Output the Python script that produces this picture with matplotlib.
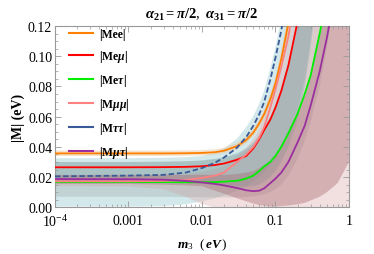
import numpy as np
import matplotlib
matplotlib.use('Agg')
import matplotlib.pyplot as plt
from matplotlib.lines import Line2D
from matplotlib.ticker import MultipleLocator, LogLocator, FixedLocator, NullFormatter

# fonts: Times-like serif
plt.rcParams['font.family'] = ['Liberation Serif', 'DejaVu Serif']
plt.rcParams['mathtext.fontset'] = 'custom'
plt.rcParams['mathtext.rm'] = 'Liberation Serif'
plt.rcParams['mathtext.it'] = 'Liberation Serif:italic:bold'
plt.rcParams['mathtext.bf'] = 'Liberation Serif:bold'

# lightest neutrino mass grid (eV)
m3 = [1e-4, 1e-3, 3e-3, 6e-3, 0.01, 0.015, 0.02, 0.03, 0.04, 0.05, 0.06, 0.07,
      0.085, 0.1, 0.12, 0.15, 0.2, 0.25, 0.3, 0.4, 0.5, 0.7, 1.0]

# |Mee|
mee = [0.0357, 0.0357, 0.0357, 0.0358, 0.0360, 0.0365, 0.0375, 0.0405, 0.0445, 0.0495, 0.0555, 0.0615,
       0.0715, 0.0820, 0.0980, 0.1220, 0.160, 0.200, 0.240, 0.300, 0.380, 0.520, 0.740]
mee_lo = [0.0340, 0.0340, 0.0340, 0.0341, 0.0343, 0.0348, 0.0357, 0.0385, 0.0423, 0.0471, 0.0527, 0.0585,
          0.0680, 0.0780, 0.0930, 0.1160, 0.152, 0.190, 0.228, 0.285, 0.361, 0.494, 0.703]
mee_hi = [0.0376, 0.0376, 0.0376, 0.0377, 0.0379, 0.0384, 0.0395, 0.0427, 0.0468, 0.0520, 0.0583, 0.0645,
          0.0750, 0.0860, 0.1030, 0.1280, 0.168, 0.210, 0.252, 0.315, 0.400, 0.546, 0.777]

# |Me mu|
mem = [0.0265, 0.0265, 0.0266, 0.0268, 0.0272, 0.0280, 0.0290, 0.0315, 0.0340, 0.0390, 0.0450, 0.0510,
       0.0580, 0.0660, 0.0770, 0.0940, 0.123, 0.150, 0.180, 0.240, 0.300, 0.420, 0.600]
mem_lo = [0.0165, 0.0165, 0.0163, 0.0160, 0.0155, 0.0150, 0.0145, 0.0140, 0.0135, 0.0140, 0.0150, 0.0170,
          0.0200, 0.0240, 0.0300, 0.0400, 0.058, 0.080, 0.105, 0.160, 0.210, 0.300, 0.450]
mem_hi = [0.0300, 0.0300, 0.0302, 0.0305, 0.0310, 0.0320, 0.0330, 0.0360, 0.0390, 0.0430, 0.0480, 0.0530,
          0.0600, 0.0680, 0.0790, 0.0960, 0.125, 0.155, 0.185, 0.245, 0.310, 0.430, 0.610]

# |Me tau|
met = [0.0167, 0.0167, 0.0167, 0.0166, 0.0166, 0.0167, 0.0170, 0.0176, 0.0190, 0.0210, 0.0240, 0.0270,
       0.0300, 0.0340, 0.0400, 0.0490, 0.062, 0.075, 0.087, 0.115, 0.140, 0.190, 0.270]
met_lo = [0.0070, 0.0070, 0.0069, 0.0068, 0.0067, 0.0066, 0.0066, 0.0066, 0.0068, 0.0072, 0.0078, 0.0085,
          0.0100, 0.0120, 0.0150, 0.0210, 0.032, 0.044, 0.056, 0.080, 0.105, 0.150, 0.220]
met_hi = [0.0300, 0.0300, 0.0302, 0.0305, 0.0310, 0.0320, 0.0330, 0.0350, 0.0380, 0.0420, 0.0470, 0.0520,
          0.0590, 0.0670, 0.0780, 0.0950, 0.124, 0.155, 0.185, 0.245, 0.310, 0.430, 0.610]

# |M mu mu|
mmm = [0.0172, 0.0172, 0.0175, 0.0180, 0.0195, 0.0210, 0.0230, 0.0300, 0.0350, 0.0400, 0.0460, 0.0530,
       0.0660, 0.0780, 0.0930, 0.1130, 0.150, 0.185, 0.220, 0.290, 0.360, 0.500, 0.700]
mmm_lo = [0.0140, 0.0138, 0.0120, 0.0070, 0.0020, 0.0, 0.0, 0.0, 0.0, 0.0, 0.0, 0.0,
          0.0, 0.0, 0.0, 0.0, 0.0, 0.0, 0.0, 0.0, 0.0, 0.0, 0.0]
mmm_hi = [0.0210, 0.0210, 0.0213, 0.0220, 0.0235, 0.0255, 0.0275, 0.0340, 0.0395, 0.0450, 0.0515, 0.0590,
          0.0720, 0.0850, 0.1010, 0.1230, 0.162, 0.200, 0.240, 0.315, 0.390, 0.540, 0.760]

# |M tau tau|
mtt = [0.0205, 0.0210, 0.0215, 0.0230, 0.0260, 0.0295, 0.0330, 0.0395, 0.0465, 0.0540, 0.0615, 0.0695,
       0.0845, 0.0990, 0.1170, 0.1450, 0.190, 0.240, 0.290, 0.380, 0.480, 0.670, 0.950]
mtt_lo = [0.0005, 0.0005, 0.0008, 0.0020, 0.0040, 0.0060, 0.0080, 0.0110, 0.0140, 0.0170, 0.0200, 0.0230,
          0.0280, 0.0330, 0.0400, 0.0500, 0.065, 0.085, 0.110, 0.150, 0.200, 0.290, 0.420]
mtt_hi = [0.0325, 0.0325, 0.0328, 0.0332, 0.0340, 0.0360, 0.0390, 0.0455, 0.0530, 0.0605, 0.0685, 0.0770,
          0.0920, 0.1060, 0.1240, 0.1520, 0.200, 0.250, 0.300, 0.400, 0.500, 0.700, 1.000]

# |M mu tau|
mmt = [0.0187, 0.0186, 0.0183, 0.0175, 0.0165, 0.0155, 0.0145, 0.0128, 0.0113, 0.0107, 0.0110, 0.0125,
       0.0160, 0.0190, 0.0230, 0.0300, 0.043, 0.054, 0.067, 0.090, 0.112, 0.150, 0.210]
mmt_lo = [0.0155, 0.0155, 0.0150, 0.0145, 0.0140, 0.0110, 0.0090, 0.0060, 0.0040, 0.0025, 0.0015, 0.0010,
          0.0005, 0.0005, 0.0008, 0.0012, 0.0020, 0.0030, 0.0045, 0.0070, 0.0100, 0.0160, 0.0300]
mmt_hi = [0.0215, 0.0215, 0.0215, 0.0215, 0.0215, 0.0215, 0.0215, 0.0220, 0.0230, 0.0240, 0.0260, 0.0280,
          0.0310, 0.0350, 0.0410, 0.0500, 0.063, 0.075, 0.087, 0.115, 0.140, 0.190, 0.270]

labels = [r'|Mee|', r'|Me$\mu$|', r'|Me$\tau$|', r'|M$\mu\mu$|', r'|M$\tau\tau$|', r'|M$\mu\tau$|']
colors = ['#ff8000', '#ff0000', '#00ee00', '#ff8080', '#3a5a98', '#9b2f9f']

fig = plt.figure(figsize=(3.74, 2.55), dpi=100)
ax = fig.add_axes([0.147, 0.183, 0.786, 0.711])

# shaded ranges first
ax.fill_between(m3, mtt_lo, mtt_hi, color='#a6d2d8', alpha=0.5, lw=0, zorder=1)
ax.fill_between(m3, mmm_lo, mmm_hi, color='#e0b0b0', alpha=0.4, lw=0, zorder=1)
ax.fill_between(m3, met_lo, met_hi, color='#8c8c8c', alpha=0.22, lw=0, zorder=1)
ax.fill_between(m3, mem_lo, mem_hi, color='#6a9c9c', alpha=0.28, lw=0, zorder=1)
ax.fill_between(m3, mmt_lo, mmt_hi, color='#a86a72', alpha=0.4, lw=0, zorder=1)
ax.fill_between(m3, mee_lo, mee_hi, color='#e8c8a0', alpha=0.5, lw=0, zorder=1)

# central curves
lw = 1.3
ax.plot(m3, mee, color=colors[0], lw=lw, zorder=3)
ax.plot(m3, mem, color=colors[1], lw=lw, zorder=3)
ax.plot(m3, met, color=colors[2], lw=lw, zorder=3)
ax.plot(m3, mmm, color=colors[3], lw=lw, zorder=3)
ax.plot(m3, mtt, color=colors[4], lw=lw, ls=(0, (3, 1.5)), zorder=4)
ax.plot(m3, mmt, color=colors[5], lw=lw, zorder=3)

ax.set_xscale('log')
ax.set_xlim(1e-4, 1)
ax.set_ylim(0, 0.12)

ax.xaxis.set_major_locator(FixedLocator([1e-4, 1e-3, 1e-2, 1e-1, 1]))
ax.set_xticklabels(['$10^{-4}$', '0.001', '0.01', '0.1', '1'])
ax.xaxis.set_minor_locator(LogLocator(base=10, subs=np.arange(2, 10)))
ax.xaxis.set_minor_formatter(NullFormatter())
ax.yaxis.set_minor_locator(MultipleLocator(0.005))
ax.set_yticks([0, 0.02, 0.04, 0.06, 0.08, 0.10, 0.12])
ax.set_yticklabels(['0.00', '0.02', '0.04', '0.06', '0.08', '0.10', '0.12'])

for lab in ax.get_xticklabels() + ax.get_yticklabels():
    lab.set_fontsize(10)

ax.tick_params(which='both', direction='in', top=True, right=True, colors='#999999',
               labelcolor='black')
ax.tick_params(axis='x', pad=4.5)
ax.tick_params(axis='y', pad=2)
ax.tick_params(which='major', length=4, width=0.6)
ax.tick_params(which='minor', length=2, width=0.5)
for s in ax.spines.values():
    s.set_color('#999999')
    s.set_linewidth(0.8)

ax.set_xlabel(r'$m_3\ \ (\,eV\,)$', fontsize=9.5, labelpad=5)
ax.set_ylabel('|M| (eV)', fontsize=10, fontweight='bold', labelpad=2)
ax.set_title(r'$\alpha_{\mathbf{21}}\mathbf{=}\pi\mathbf{/2},\ \alpha_{\mathbf{31}}\mathbf{=}\pi\mathbf{/2}$',
             fontsize=10.5, pad=6)

# legend uses solid lines for every entry
handles = [Line2D([], [], color=c, lw=1.5) for c in colors]
leg = ax.legend(handles, labels, loc='upper left', bbox_to_anchor=(0.025, 1.03), frameon=False,
                prop={'family': 'Liberation Serif', 'weight': 'bold', 'size': 8.5},
                handlelength=2.0, handletextpad=0.5, labelspacing=0.68, borderaxespad=0.2)

fig.savefig('out.png', dpi=100)
